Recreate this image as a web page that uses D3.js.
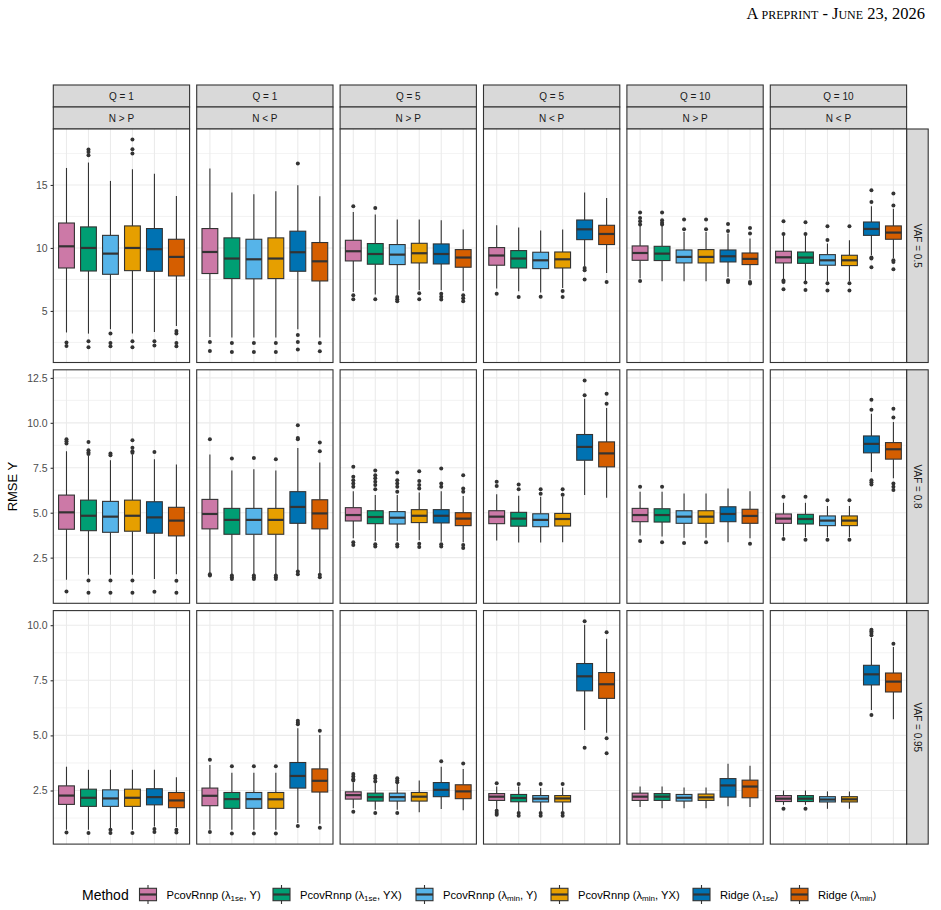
<!DOCTYPE html>
<html><head><meta charset="utf-8">
<script src="https://cdn.jsdelivr.net/npm/d3@7"></script>
<style>body{margin:0;background:#fff} svg{display:block}</style>
</head><body><svg id="c" width="941" height="910"></svg>
<script>
// ---------------- DATA ----------------
const methods = ["PcovRnnp (λ1se, Y)", "PcovRnnp (λ1se, YX)", "PcovRnnp (λmin, Y)", "PcovRnnp (λmin, YX)", "Ridge (λ1se)", "Ridge (λmin)"];
const methodLabelParts = [["PcovRnnp (λ","1se",", Y)"],["PcovRnnp (λ","1se",", YX)"],["PcovRnnp (λ","min",", Y)"],["PcovRnnp (λ","min",", YX)"],["Ridge (λ","1se",")"],["Ridge (λ","min",")"]];
const palette = ["#CC79A7", "#009E73", "#56B4E9", "#E69F00", "#0072B2", "#D55E00"];
const qLabels = ["Q = 1", "Q = 1", "Q = 5", "Q = 5", "Q = 10", "Q = 10"];
const npLabels = ["N > P", "N < P", "N > P", "N < P", "N > P", "N < P"];
const vafLabels = ["VAF = 0.5", "VAF = 0.8", "VAF = 0.95"];
const yTicks = [[5, 10, 15], [2.5, 5, 7.5, 10, 12.5], [2.5, 5, 7.5, 10]];
const yTickLabels = [["5", "10", "15"], ["2.5", "5.0", "7.5", "10.0", "12.5"], ["2.5", "5.0", "7.5", "10.0"]];

// box stats per panel: [lower whisker, Q1, median, Q3, upper whisker] for each method
const statsVaf05 = [
  [[3.29,8.41,10.13,11.98,16.35],[3.2,8.17,10.0,11.67,16.78],[3.55,7.91,9.55,11.0,15.32],[3.2,8.2,10.0,11.75,16.25],[3.33,8.15,9.9,11.54,15.9],[3.81,7.78,9.29,10.69,14.13]],
  [[2.94,7.97,9.68,11.54,16.3],[2.9,7.57,9.16,10.8,14.4],[2.9,7.55,9.1,10.69,14.26],[2.9,7.57,9.16,10.8,14.5],[3.55,8.15,9.66,11.33,14.98],[2.9,7.38,8.94,10.43,14.1]],
  [[6.51,8.97,9.74,10.61,12.86],[6.3,8.71,9.52,10.35,12.65],[6.25,8.68,9.47,10.27,12.25],[6.64,8.81,9.58,10.37,12.25],[6.64,8.73,9.52,10.32,12.2],[6.58,8.47,9.24,9.87,11.46]],
  [[6.78,8.63,9.4,10.03,11.8],[6.56,8.41,9.16,9.79,11.62],[6.46,8.36,9.02,9.66,11.38],[6.83,8.41,9.1,9.68,11.46],[8.57,10.66,11.48,12.22,14.4],[8.02,10.27,11.11,11.8,13.97]],
  [[7.57,9.02,9.6,10.16,11.8],[7.36,9.0,9.55,10.13,11.8],[7.36,8.81,9.29,9.84,11.27],[7.36,8.81,9.29,9.87,11.27],[7.7,8.89,9.34,9.84,11.14],[7.49,8.68,9.13,9.6,10.75]],
  [[7.51,8.81,9.26,9.74,11.0],[7.36,8.78,9.24,9.68,11.0],[7.36,8.63,9.02,9.47,10.35],[7.36,8.6,9.02,9.42,10.61],[9.42,11.0,11.51,12.06,13.31],[9.21,10.69,11.22,11.75,13.12]]
];
const outliersVaf05 = [
  [[2.49,2.22],[17.81,17.62,17.36,2.6,2.12],[3.2,2.45,2.2],[18.6,17.83,17.49,2.6,2.12],[2.6,2.25],[3.4,3.2,2.45,2.2]],
  [[2.54,1.83],[2.46,1.75],[2.46,1.75],[2.46,1.75],[16.7,3.1,2.54,1.94],[2.46,1.8]],
  [[13.31,6.25,5.93],[13.17,5.93],[6.11,5.93,5.77],[6.4,5.93],[6.37,6.13,5.9],[6.25,6.0,5.77]],
  [[6.37],[6.11],[6.13],[6.59,6.11],[8.41,8.23,7.49],[7.3]],
  [[12.81,12.38,12.12,11.86,7.38],[12.81,12.2,12.0,11.86],[12.25,11.49],[12.25,11.49],[11.9,11.35,7.44,7.3],[11.59,11.14,7.3,7.17]],
  [[12.12,11.11,7.41,7.3,6.72],[12.04,11.11,7.25,6.67],[11.72,10.64,7.2,6.62],[11.72,7.2,6.62],[14.58,13.65,9.24,9.16,8.47],[14.32,13.37,9.02,8.89,8.31]]
];
const statsVaf08 = [
  [[1.27,4.08,5.02,5.98,8.42],[1.55,4.0,4.83,5.7,8.16],[1.55,3.91,4.78,5.63,7.92],[1.55,3.97,4.83,5.7,8.24],[1.31,3.86,4.74,5.61,7.98],[1.58,3.71,4.56,5.3,7.68]],
  [[1.64,4.1,4.93,5.74,8.24],[1.58,3.8,4.6,5.24,7.35],[1.58,3.8,4.6,5.24,7.42],[1.58,3.8,4.6,5.24,7.35],[1.77,4.41,5.32,6.17,8.6],[1.64,4.1,4.96,5.72,7.79]],
  [[3.58,4.54,4.87,5.28,6.2],[3.43,4.39,4.76,5.11,5.98],[3.43,4.37,4.72,5.06,5.98],[3.47,4.45,4.83,5.17,6.13],[3.39,4.43,4.83,5.17,6.2],[3.36,4.28,4.67,5.0,5.93]],
  [[3.45,4.39,4.78,5.11,6.02],[3.34,4.25,4.67,5.02,5.94],[3.34,4.22,4.6,4.94,5.89],[3.36,4.26,4.65,4.96,5.89],[5.98,7.92,8.66,9.35,11.34],[5.83,7.55,8.3,8.94,10.82]],
  [[3.73,4.5,4.87,5.24,6.17],[3.67,4.48,4.87,5.22,6.17],[3.61,4.41,4.78,5.11,6.07],[3.61,4.41,4.78,5.11,6.07],[3.36,4.5,4.93,5.33,6.35],[3.58,4.41,4.82,5.19,6.2]],
  [[3.67,4.41,4.67,4.93,5.55],[3.64,4.37,4.65,4.91,5.55],[3.64,4.28,4.56,4.82,5.37],[3.64,4.28,4.56,4.82,5.37],[7.27,8.33,8.83,9.27,10.51],[6.91,7.98,8.53,8.9,10.04]]
];
const outliersVaf08 = [
  [[9.08,8.97,8.85,0.62],[8.94,8.48,8.35,8.26,1.23,0.55],[8.3,8.2,1.23,0.55],[9.03,8.62,8.42,8.33,1.23,0.55],[8.38,0.6],[1.21,0.55]],
  [[9.08,1.58,1.5],[8.01,1.5,1.41,1.31],[8.05,1.5,1.41,1.31],[7.97,1.5,1.41,1.31],[9.86,9.16,9.08,1.73,1.58],[8.9,8.42,1.55,1.41]],
  [[7.55,7.0,6.81,6.63,6.44,3.36,3.21],[7.35,7.09,6.91,6.72,6.54,6.31,3.25,3.12],[7.24,6.81,6.63,6.44,6.17,3.25,3.12],[7.31,6.76,6.54,6.35,3.27,3.09],[7.46,6.63,6.44,3.25,3.12],[7.09,6.35,6.17,3.21,3.03]],
  [[6.72,6.48],[6.57,6.31],[6.31,6.05],[6.31,6.0],[12.36,11.53],[11.62,11.06]],
  [[6.44,3.43],[6.44,3.36],[3.32],[3.36],[],[3.27]],
  [[5.89,3.54],[5.89,3.5],[5.69,3.5],[5.69,3.5],[11.28,10.73,6.81,6.69,6.57],[10.79,10.29,6.63,6.44,6.26]]
];
const statsVaf095 = [
  [[0.72,1.87,2.27,2.71,3.58],[0.72,1.78,2.17,2.56,3.44],[0.8,1.78,2.14,2.53,3.44],[0.72,1.78,2.17,2.56,3.44],[0.87,1.85,2.2,2.58,3.44],[0.84,1.72,2.05,2.41,3.1]],
  [[0.72,1.81,2.26,2.61,3.66],[0.72,1.69,2.11,2.41,3.31],[0.72,1.69,2.11,2.41,3.31],[0.72,1.69,2.1,2.41,3.31],[1.03,2.61,3.16,3.77,5.32],[0.99,2.43,2.94,3.48,5.02]],
  [[1.7,2.11,2.29,2.44,2.86],[1.63,2.02,2.2,2.38,2.83],[1.63,2.02,2.2,2.38,2.83],[1.51,2.02,2.22,2.41,2.95],[1.66,2.22,2.53,2.86,3.58],[1.6,2.13,2.46,2.76,3.47]],
  [[1.63,2.05,2.22,2.36,2.68],[1.55,1.99,2.16,2.32,2.68],[1.55,1.98,2.13,2.27,2.61],[1.55,1.98,2.14,2.27,2.64],[5.24,7.02,7.68,8.26,10.02],[5.12,6.68,7.32,7.85,9.39]],
  [[1.75,2.05,2.22,2.38,2.68],[1.69,2.05,2.22,2.36,2.68],[1.69,2.02,2.17,2.32,2.64],[1.69,2.05,2.19,2.34,2.64],[1.78,2.2,2.73,3.04,3.71],[1.75,2.17,2.68,2.97,3.62]],
  [[1.85,2.0,2.13,2.27,2.5],[1.85,2.0,2.13,2.27,2.5],[1.67,1.98,2.09,2.22,2.46],[1.67,1.98,2.1,2.22,2.46],[6.15,7.29,7.77,8.18,9.43],[5.73,6.97,7.44,7.83,9.01]]
];
const outliersVaf095 = [
  [[0.6],[0.57],[0.72,0.57],[0.57],[0.75,0.62],[0.72,0.6]],
  [[3.89,0.62],[3.6,0.55],[3.6,0.55],[3.6,0.55],[5.66,5.57,5.5,0.89],[5.21,0.81]],
  [[3.25,3.13,3.01,2.95,1.54],[3.16,3.06,2.91,1.48],[3.06,2.95,2.88,1.48],[],[3.83],[3.72]],
  [[2.83,1.58,1.48,1.4],[2.8,1.48,1.36],[2.8,1.48,1.36],[2.8,1.48,1.36],[10.18,4.44],[9.68,4.87,4.19]],
  [[],[],[],[],[],[]],
  [[1.67],[1.67],[],[],[9.79,9.72,9.64,9.54,5.92],[9.16]]
];
const rowStats = [statsVaf05, statsVaf08, statsVaf095];
const rowOutliers = [outliersVaf05, outliersVaf08, outliersVaf095];

// ---------------- LAYOUT ----------------
const L = {left: 53.3, panelW: 136.3, colStep: 143.4, top: 129, rowStep: 240.8, panelH: 233.5, stripH: 22, rStripW: 21.6};
const font = "'Liberation Sans', Arial, Helvetica, sans-serif";
const dark = "#333333", grid = "#EBEBEB", stripFill = "#D9D9D9";
const svg = d3.select("#c");

// header
svg.append("text").attr("x", 925).attr("y", 19).attr("text-anchor", "end")
  .attr("font-family", "'Liberation Serif', 'Times New Roman', serif").attr("font-size", 16.5)
  .style("font-variant", "small-caps").attr("fill", "#000").text("A preprint - June 23, 2026");

// top strips
qLabels.forEach((q, c) => {
  const x0 = L.left + c * L.colStep;
  [q, npLabels[c]].forEach((lab, k) => {
    const y0 = L.top - 2 * L.stripH + k * L.stripH;
    svg.append("rect").attr("x", x0).attr("y", y0).attr("width", L.panelW).attr("height", L.stripH)
      .attr("fill", stripFill).attr("stroke", dark).attr("stroke-width", 1.1);
    svg.append("text").attr("x", x0 + L.panelW / 2).attr("y", y0 + L.stripH / 2 + 3.6)
      .attr("text-anchor", "middle").attr("font-family", font).attr("font-size", 10).attr("fill", "#1A1A1A").text(lab);
  });
});

rowStats.forEach((stats, r) => {
  const y0 = L.top + r * L.rowStep;
  const allVals = [];
  stats.forEach((p, pi) => p.forEach((s, mi) => { allVals.push(...s, ...rowOutliers[r][pi][mi]); }));
  const [mn, mx] = d3.extent(allVals);
  const ex = (mx - mn) * 0.05;
  const y = d3.scaleLinear().domain([mn - ex, mx + ex]).range([y0 + L.panelH, y0]);
  const major = yTicks[r];
  const st = major[1] - major[0];
  const minor = d3.range(major[0] - st / 2, mx + ex, st).filter(v => v > mn - ex && v < mx + ex);

  // right strip
  const rx = L.left + 5 * L.colStep + L.panelW;
  svg.append("rect").attr("x", rx).attr("y", y0).attr("width", L.rStripW).attr("height", L.panelH)
    .attr("fill", stripFill).attr("stroke", dark).attr("stroke-width", 1.1);
  svg.append("text").attr("transform", `translate(${rx + L.rStripW / 2 - 3.6},${y0 + L.panelH / 2}) rotate(90)`)
    .attr("text-anchor", "middle").attr("font-family", font).attr("font-size", 10).attr("fill", "#1A1A1A").text(vafLabels[r]);

  // y axis
  const axis = svg.append("g").attr("transform", `translate(${L.left},0)`)
    .call(d3.axisLeft(y).tickValues(major).tickFormat((d, i) => yTickLabels[r][i]).tickSize(2.7).tickPadding(3));
  axis.select(".domain").remove();
  axis.selectAll("line").attr("stroke", dark).attr("stroke-width", 1.1);
  axis.selectAll("text").attr("font-family", font).attr("font-size", 10.5).attr("fill", "#4D4D4D");

  stats.forEach((panel, c) => {
    const x0 = L.left + c * L.colStep;
    const x = d3.scalePoint().domain(methods).range([x0, x0 + L.panelW]).padding(0.6);
    const bw = x.step() * 0.72;
    const g = svg.append("g");
    g.append("rect").attr("x", x0).attr("y", y0).attr("width", L.panelW).attr("height", L.panelH).attr("fill", "#fff");
    g.selectAll(".mn").data(minor).join("line").attr("x1", x0).attr("x2", x0 + L.panelW)
      .attr("y1", d => y(d)).attr("y2", d => y(d)).attr("stroke", grid).attr("stroke-width", 0.6);
    g.selectAll(".mj").data(major).join("line").attr("x1", x0).attr("x2", x0 + L.panelW)
      .attr("y1", d => y(d)).attr("y2", d => y(d)).attr("stroke", grid).attr("stroke-width", 1.1);
    g.selectAll(".vx").data(methods).join("line").attr("x1", d => x(d)).attr("x2", d => x(d))
      .attr("y1", y0).attr("y2", y0 + L.panelH).attr("stroke", grid).attr("stroke-width", 1.1);

    panel.forEach((s, m) => {
      const cx = x(methods[m]);
      const [lo, q1, md, q3, hi] = s;
      g.append("line").attr("x1", cx).attr("x2", cx).attr("y1", y(hi)).attr("y2", y(q3)).attr("stroke", dark).attr("stroke-width", 1.1);
      g.append("line").attr("x1", cx).attr("x2", cx).attr("y1", y(q1)).attr("y2", y(lo)).attr("stroke", dark).attr("stroke-width", 1.1);
      g.append("rect").attr("x", cx - bw / 2).attr("y", y(q3)).attr("width", bw).attr("height", y(q1) - y(q3))
        .attr("fill", palette[m]).attr("stroke", dark).attr("stroke-width", 1.1);
      g.append("line").attr("x1", cx - bw / 2).attr("x2", cx + bw / 2).attr("y1", y(md)).attr("y2", y(md))
        .attr("stroke", dark).attr("stroke-width", 2.2);
      g.selectAll(null).data(rowOutliers[r][c][m]).join("circle").attr("cx", cx).attr("cy", d => y(d))
        .attr("r", 2).attr("fill", dark);
    });
    g.append("rect").attr("x", x0).attr("y", y0).attr("width", L.panelW).attr("height", L.panelH)
      .attr("fill", "none").attr("stroke", dark).attr("stroke-width", 1.1);
  });
});

// y axis title
svg.append("text").attr("transform", `translate(17,${L.top + (2 * L.rowStep + L.panelH) / 2}) rotate(-90)`)
  .attr("text-anchor", "middle").attr("font-family", font).attr("font-size", 13).attr("fill", "#000").text("RMSE Y");

// legend
const legY = 894.5;
svg.append("text").attr("x", 82).attr("y", legY + 5).attr("font-family", font).attr("font-size", 14).attr("fill", "#000").text("Method");
const keyX = [139.5, 273, 416, 551, 693, 791];
methods.forEach((m, i) => {
  const kx = keyX[i];
  const g = svg.append("g");
  g.append("line").attr("x1", kx + 8.5).attr("x2", kx + 8.5).attr("y1", legY - 9.5).attr("y2", legY + 9.5).attr("stroke", dark).attr("stroke-width", 1.1);
  g.append("rect").attr("x", kx).attr("y", legY - 6.2).attr("width", 17).attr("height", 12.4)
    .attr("fill", palette[i]).attr("stroke", dark).attr("stroke-width", 1.1);
  g.append("line").attr("x1", kx).attr("x2", kx + 17).attr("y1", legY).attr("y2", legY).attr("stroke", dark).attr("stroke-width", 2.2);
  const t = g.append("text").attr("x", kx + 27).attr("y", legY + 4).attr("font-family", font).attr("font-size", 11.2).attr("fill", "#000");
  const parts = methodLabelParts[i];
  t.append("tspan").text(parts[0]);
  t.append("tspan").attr("font-size", 8).attr("dy", 2).text(parts[1]);
  t.append("tspan").attr("dy", -2).text(parts[2]);
});
</script></body></html>
